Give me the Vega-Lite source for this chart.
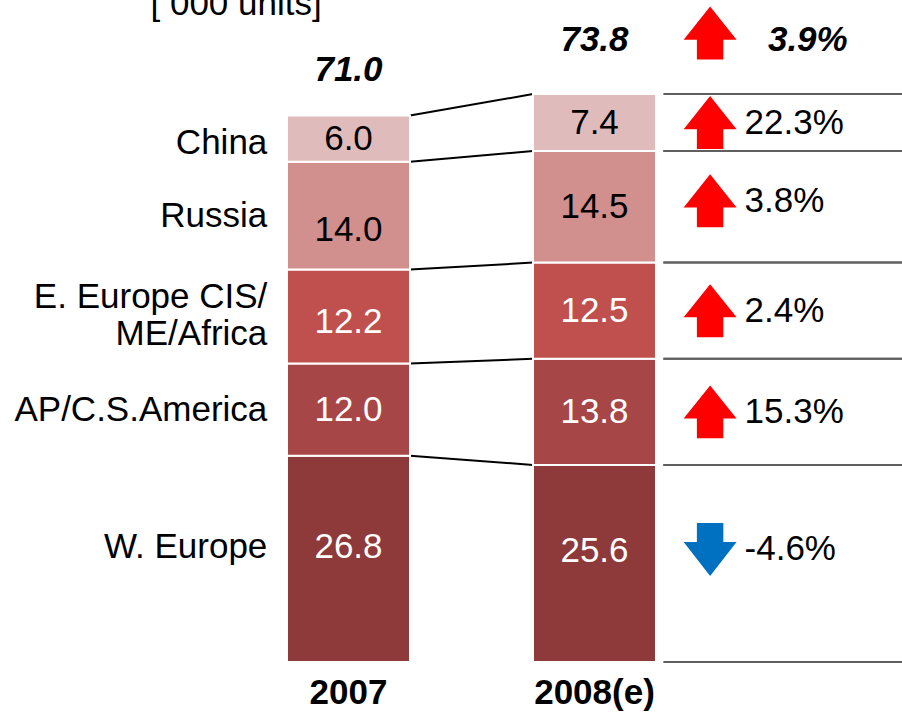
{
  "$schema": "https://vega.github.io/schema/vega-lite/v6.json",
  "width": 902,
  "height": 662,
  "autosize": {"type": "none"},
  "padding": {"left": 0, "top": 0, "right": 0, "bottom": 50},
  "background": "white",
  "config": {"view": {"stroke": null}, "font": "Liberation Sans", "text": {"font": "Liberation Sans", "fontSize": 35}},
  "datasets": {
    "units": [
      {"region": "W. Europe", "year": "2007", "value": 26.8},
      {"region": "W. Europe", "year": "2008(e)", "value": 25.6},
      {"region": "AP/C.S.America", "year": "2007", "value": 12.0},
      {"region": "AP/C.S.America", "year": "2008(e)", "value": 13.8},
      {"region": "E. Europe CIS/\nME/Africa", "year": "2007", "value": 12.2},
      {"region": "E. Europe CIS/\nME/Africa", "year": "2008(e)", "value": 12.5},
      {"region": "Russia", "year": "2007", "value": 14.0},
      {"region": "Russia", "year": "2008(e)", "value": 14.5},
      {"region": "China", "year": "2007", "value": 6.0},
      {"region": "China", "year": "2008(e)", "value": 7.4}
    ],
    "changes": [
      {"region": "W. Europe", "change": -4.6},
      {"region": "AP/C.S.America", "change": 15.3},
      {"region": "E. Europe CIS/\nME/Africa", "change": 2.4},
      {"region": "Russia", "change": 3.8},
      {"region": "China", "change": 22.3},
      {"region": "Total", "change": 3.9}
    ]
  },
  "data": {"name": "units"},
  "transform": [
    {"calculate": "datum.region == 'W. Europe' ? 0 : datum.region == 'AP/C.S.America' ? 1 : datum.region == 'Russia' ? 3 : datum.region == 'China' ? 4 : 2", "as": "rank"},
    {"stack": "value", "groupby": ["year"], "sort": [{"field": "rank", "order": "ascending"}], "as": ["y0", "y1"]},
    {"calculate": "(datum.y0 + datum.y1) / 2", "as": "mid"}
  ],
  "layer": [
    {
      "transform": [{"pivot": "year", "value": "y1", "groupby": ["region"]}],
      "mark": {"type": "rule", "color": "black", "strokeWidth": 2},
      "encoding": {
        "x": {"datum": "2007", "type": "nominal", "bandPosition": 1, "axis": null},
        "x2": {"datum": "2008(e)", "bandPosition": 0},
        "y": {"field": "2007", "type": "quantitative", "scale": {"domain": [0, 86.02], "nice": false}, "axis": null},
        "y2": {"field": "2008(e)"}
      }
    },
    {
      "transform": [{"filter": "datum.year == '2008(e)'"}, {"fold": ["y0", "y1"], "as": ["edge", "pos"]}],
      "mark": {"type": "rule", "color": "#5f5f5f", "strokeWidth": 2},
      "encoding": {
        "x": {"datum": "2008(e)", "type": "nominal", "bandPosition": 1.06, "axis": null},
        "x2": {"datum": "2008(e)", "bandPosition": 3},
        "y": {"field": "pos", "type": "quantitative", "scale": {"domain": [0, 86.02], "nice": false}, "axis": null}
      }
    },
    {
      "mark": {"type": "bar", "stroke": "white", "strokeWidth": 2},
      "encoding": {
        "x": {"field": "year", "type": "nominal",
              "scale": {"domain": ["2007", "2008(e)"], "range": [287, 656], "paddingInner": 0.5, "paddingOuter": 0},
              "axis": {"title": null, "domain": false, "ticks": false, "labels": false, "grid": false}},
        "y": {"field": "y0", "type": "quantitative", "scale": {"domain": [0, 86.02], "nice": false}, "axis": null},
        "y2": {"field": "y1"},
        "color": {"field": "region", "type": "nominal",
                  "scale": {"domain": ["W. Europe", "AP/C.S.America", "E. Europe CIS/\nME/Africa", "Russia", "China"],
                            "range": ["#8E3A3A", "#A64646", "#C0504D", "#D18F8E", "#E0BBBB"]},
                  "legend": null}
      }
    },
    {
      "mark": {"type": "text", "baseline": "middle", "align": "center", "fontSize": 35,
               "dy": {"expr": "datum.rank == 0 ? -12 : (datum.year == '2007' && datum.rank == 3) ? 14 : (datum.year == '2007' && datum.rank == 2) ? 6 : 0"}},
      "encoding": {
        "x": {"field": "year", "type": "nominal"},
        "y": {"field": "mid", "type": "quantitative", "scale": {"domain": [0, 86.02], "nice": false}, "axis": null},
        "text": {"field": "value", "type": "quantitative", "format": ".1f"},
        "color": {"condition": {"test": "datum.rank >= 3", "value": "black"}, "value": "white"}
      }
    },
    {
      "transform": [{"filter": "datum.year == '2007'"}],
      "mark": {"type": "text", "baseline": "middle", "align": "right", "fontSize": 35, "lineHeight": 37, "lineBreak": "\n", "color": "black",
               "dy": {"expr": "datum.rank == 0 ? -12 : datum.rank == 2 ? -19 : datum.rank == 4 ? 4 : 0"}},
      "encoding": {
        "x": {"datum": "2007", "type": "nominal", "bandPosition": -0.16, "axis": null},
        "y": {"field": "mid", "type": "quantitative", "scale": {"domain": [0, 86.02], "nice": false}, "axis": null},
        "text": {"field": "region", "type": "nominal"}
      }
    },
    {
      "transform": [{"filter": "datum.rank == 0"}],
      "mark": {"type": "text", "baseline": "middle", "align": "center", "fontSize": 35, "fontWeight": "bold", "color": "black", "dy": 31},
      "encoding": {
        "x": {"field": "year", "type": "nominal"},
        "y": {"field": "y0", "type": "quantitative", "scale": {"domain": [0, 86.02], "nice": false}, "axis": null},
        "text": {"field": "year", "type": "nominal"}
      }
    },
    {
      "transform": [{"filter": "datum.rank == 4 && datum.year == '2007'"}],
      "mark": {"type": "text", "baseline": "alphabetic", "align": "left", "fontSize": 35, "color": "black", "text": "[ 000 units]", "dy": -101},
      "encoding": {
        "x": {"datum": "2007", "type": "nominal", "bandPosition": -1.11, "axis": null},
        "y": {"field": "y1", "type": "quantitative", "scale": {"domain": [0, 86.02], "nice": false}, "axis": null}
      }
    },
    {
      "transform": [
        {"filter": "datum.year == '2008(e)'"},
        {"lookup": "region", "from": {"data": {"name": "changes"}, "key": "region", "fields": ["change"]}},
        {"calculate": "datum.change + '%'", "as": "label"}
      ],
      "layer": [
        {
          "mark": {"type": "point", "filled": true, "opacity": 1, "size": 2800, "strokeWidth": 0, "yOffset": {"expr": "datum.rank == 0 ? -14 : datum.rank == 3 ? -6 : 0"}},
          "encoding": {
            "x": {"datum": "2008(e)", "type": "nominal", "bandPosition": 1.44, "axis": null},
            "y": {"field": "mid", "type": "quantitative", "scale": {"domain": [0, 86.02], "nice": false}, "axis": null},
            "shape": {"condition": {"test": "datum.change < 0", "value": "M-0.5,-1L0.5,-1L0.5,-0.28L1,-0.28L0,1L-1,-0.28L-0.5,-0.28Z"}, "value": "M0,-1L1,0.25L0.5,0.25L0.5,1L-0.5,1L-0.5,0.25L-1,0.25Z"},
            "color": {"condition": {"test": "datum.change < 0", "value": "#0070C0"}, "value": "#FF0000"}
          }
        },
        {
          "mark": {"type": "text", "baseline": "middle", "align": "left", "fontSize": 35, "color": "black", "dy": {"expr": "datum.rank == 0 ? -14 : datum.rank == 3 ? -6 : 0"}},
          "encoding": {
            "x": {"datum": "2008(e)", "type": "nominal", "bandPosition": 1.72, "axis": null},
            "y": {"field": "mid", "type": "quantitative", "scale": {"domain": [0, 86.02], "nice": false}, "axis": null},
            "text": {"field": "label", "type": "nominal"}
          }
        }
      ]
    },
    {
      "transform": [{"aggregate": [{"op": "sum", "field": "value", "as": "total"}], "groupby": ["year"]}],
      "mark": {"type": "text", "baseline": "middle", "align": "center", "fontSize": 35, "fontWeight": "bold", "fontStyle": "italic", "color": "black",
               "dy": {"expr": "datum.year == '2007' ? -46 : -54"}},
      "encoding": {
        "x": {"field": "year", "type": "nominal"},
        "y": {"field": "total", "type": "quantitative", "scale": {"domain": [0, 86.02], "nice": false}, "axis": null},
        "text": {"field": "total", "type": "quantitative", "format": ".1f"}
      }
    },
    {
      "transform": [
        {"filter": "datum.year == '2008(e)'"},
        {"aggregate": [{"op": "sum", "field": "value", "as": "total"}], "groupby": ["year"]},
        {"calculate": "'Total'", "as": "region"},
        {"lookup": "region", "from": {"data": {"name": "changes"}, "key": "region", "fields": ["change"]}},
        {"calculate": "datum.change + '%'", "as": "label"}
      ],
      "layer": [
        {
          "mark": {"type": "point", "filled": true, "opacity": 1, "size": 2800, "strokeWidth": 0, "yOffset": -61},
          "encoding": {
            "x": {"datum": "2008(e)", "type": "nominal", "bandPosition": 1.44, "axis": null},
            "y": {"field": "total", "type": "quantitative", "scale": {"domain": [0, 86.02], "nice": false}, "axis": null},
            "shape": {"condition": {"test": "datum.change < 0", "value": "M-0.5,-1L0.5,-1L0.5,-0.28L1,-0.28L0,1L-1,-0.28L-0.5,-0.28Z"}, "value": "M0,-1L1,0.25L0.5,0.25L0.5,1L-0.5,1L-0.5,0.25L-1,0.25Z"},
            "color": {"condition": {"test": "datum.change < 0", "value": "#0070C0"}, "value": "#FF0000"}
          }
        },
        {
          "mark": {"type": "text", "baseline": "middle", "align": "left", "fontSize": 35, "fontWeight": "bold", "fontStyle": "italic", "color": "black", "dy": -54},
          "encoding": {
            "x": {"datum": "2008(e)", "type": "nominal", "bandPosition": 1.91, "axis": null},
            "y": {"field": "total", "type": "quantitative", "scale": {"domain": [0, 86.02], "nice": false}, "axis": null},
            "text": {"field": "label", "type": "nominal"}
          }
        }
      ]
    }
  ]
}
